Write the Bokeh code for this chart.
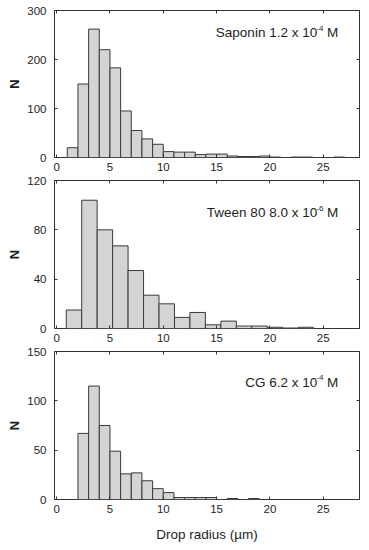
from bokeh.plotting import figure
from bokeh.layouts import column
from bokeh.models import LinearAxis, FixedTicker, Range1d, CustomLabelingPolicy
from bokeh.core.properties import value
from bokeh.embed import file_html
from bokeh.resources import INLINE

# ---------------- data ----------------
x_ticks = [0, 5, 10, 15, 20, 25]

saponin_edges = [1, 2, 3, 4, 5, 6, 7, 8, 9, 10, 11, 12, 13, 14, 15, 16, 17, 18,
                 19, 20, 21, 22, 23, 24, 25, 26, 27]
saponin_counts = [20, 150, 262, 220, 183, 95, 55, 38, 27, 12, 11, 11, 6, 7, 7,
                  3, 2, 2, 3, 1, 0, 1, 1, 0, 0, 1]
saponin_yticks = [0, 100, 200, 300]

tween_edges = [0.9, 2.35, 3.8, 5.25, 6.7, 8.15, 9.6, 11.05, 12.5, 13.95, 15.4,
               16.85, 18.3, 19.75, 21.2, 22.65, 24.1]
tween_counts = [15, 104, 80, 67, 47, 27, 20, 9, 13, 3, 6, 2, 2, 1, 0.4, 1]
tween_yticks = [0, 40, 80, 120]

cg_edges = [2, 3, 4, 5, 6, 7, 8, 9, 10, 11, 12, 13, 14, 15, 16, 17, 18, 19]
cg_counts = [67, 115, 75, 49, 26, 27, 19, 11, 7, 2, 2, 2, 2, 0, 1, 0, 1]
cg_yticks = [0, 50, 100, 150]

labels_main = ["Saponin 1.2 x 10", "Tween 80 8.0 x 10", "CG 6.2 x 10"]
labels_sup = ["-4", "-6", "-4"]
labels_unit = ["M", "M", "M"]
label_x = [26.4, 26.4, 26.4]
label_y = [255, 94, 118.7]

y_max = [300, 120, 150]
x_label = "Drop radius (\u00b5m)"
y_label = "N"

FONT = "Liberation Sans"
TXT = "#1e1e1e"
LINE = "#333333"


def panel(edges, counts, ymax, yticks, i, height, top, bottom, xlabel=None):
    p = figure(width=368, height=height, x_range=Range1d(-0.2, 28.4),
               y_range=Range1d(0, ymax), output_backend="svg",
               toolbar_location=None, x_axis_location=None, y_axis_location=None,
               min_border_left=54, min_border_right=9,
               min_border_top=top, min_border_bottom=bottom)
    p.xgrid.visible = False
    p.ygrid.visible = False
    p.outline_line_color = LINE
    p.outline_line_width = 1
    p.background_fill_color = "white"
    p.border_fill_color = "white"

    p.quad(left=edges[:-1], right=edges[1:], bottom=0, top=counts,
           fill_color="#d4d4d4", line_color="#3a3a3a", line_width=1)

    def style(ax, show):
        ax.axis_line_color = None
        ax.major_tick_in = 3
        ax.major_tick_out = 0
        ax.major_tick_line_color = LINE
        ax.minor_tick_line_color = None
        ax.major_label_text_font = FONT
        ax.major_label_text_color = TXT
        if show:
            ax.major_label_text_font_size = "11.5px"
        else:
            ax.major_label_text_font_size = "0px"
            ax.major_label_standoff = 0
            ax.major_label_policy = CustomLabelingPolicy(code="return []")

    left = LinearAxis(ticker=FixedTicker(ticks=yticks), axis_label=y_label)
    style(left, True)
    left.major_label_standoff = 8
    left.axis_label_text_font = FONT
    left.axis_label_text_font_style = "bold"
    left.axis_label_text_font_size = "13px"
    left.axis_label_text_color = TXT
    left.axis_label_standoff = 2
    p.add_layout(left, "left")

    below = LinearAxis(ticker=FixedTicker(ticks=x_ticks))
    style(below, True)
    below.major_label_standoff = 5
    if xlabel:
        below.axis_label = xlabel
        below.axis_label_text_font = FONT
        below.axis_label_text_font_style = "normal"
        below.axis_label_text_font_size = "13.5px"
        below.axis_label_text_color = TXT
        below.axis_label_standoff = 11
    p.add_layout(below, "below")

    right = LinearAxis(ticker=FixedTicker(ticks=yticks))
    style(right, False)
    p.add_layout(right, "right")
    above = LinearAxis(ticker=FixedTicker(ticks=x_ticks))
    style(above, False)
    p.add_layout(above, "above")

    p.text(x=[label_x[i]], y=[label_y[i]], text=[labels_unit[i]],
           text_align="right", text_baseline="middle",
           text_font=value(FONT), text_font_size="13.5px", text_color=TXT)
    p.text(x=[label_x[i]], y=[label_y[i]], text=[labels_sup[i]],
           text_align="right", text_baseline="middle", x_offset=-14.8, y_offset=-4.5,
           text_font=value(FONT), text_font_size="8px", text_color=TXT)
    p.text(x=[label_x[i]], y=[label_y[i]], text=[labels_main[i]],
           text_align="right", text_baseline="middle", x_offset=-21,
           text_font=value(FONT), text_font_size="13.5px", text_color=TXT)
    return p


p1 = panel(saponin_edges, saponin_counts, y_max[0], saponin_yticks, 0, 175, 10, 18)
p2 = panel(tween_edges, tween_counts, y_max[1], tween_yticks, 1, 171, 5, 18)
p3 = panel(cg_edges, cg_counts, y_max[2], cg_yticks, 2, 204, 5, 51, xlabel=x_label)

layout = column(p1, p2, p3, spacing=0)
open("out.html", "w").write(file_html(layout, INLINE))
